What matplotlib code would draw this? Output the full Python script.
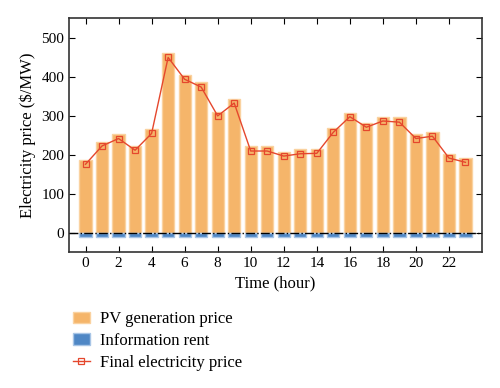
import numpy as np
import matplotlib.pyplot as plt

plt.rcParams['font.family'] = ['Liberation Serif', 'DejaVu Serif']

hours = np.arange(24)
pv_price = [185, 233, 252, 221, 265, 460, 404, 385, 310, 342, 221, 221,
            207, 213, 215, 269, 307, 281, 297, 295, 252, 259, 202, 191]
info_rent = [-11] * 24
final_price = [175, 222, 241, 211, 254, 449, 393, 373, 299, 332, 209, 209,
               196, 202, 203, 257, 297, 270, 286, 283, 241, 247, 191, 180]

fig = plt.figure(figsize=(5, 3.88), dpi=100)
ax = fig.add_axes([0.138, 0.3505, 0.826, 0.603])

b1 = ax.bar(hours, pv_price, width=0.74, color='#F5B56A', edgecolor='#FAD2A0',
            linewidth=1, label='PV generation price', zorder=2)
b2 = ax.bar(hours, info_rent, width=0.74, color='#4F87C5', edgecolor='#A8C5E6',
            linewidth=1, label='Information rent', zorder=2)
ax.axhline(0, color='black', lw=1, ls='-.', zorder=3)
ln, = ax.plot(hours, final_price, color='#E5472D', lw=1, marker='s', ms=4,
              mfc='none', mec='#E5472D', mew=0.9, label='Final electricity price', zorder=4)

ax.set_xlim(-1, 24)
ax.set_ylim(-50, 550)
ax.set_xticks(np.arange(0, 24, 2))
ax.set_yticks(np.arange(0, 501, 100))
ax.tick_params(direction='in', top=True, right=True, labelsize=11, length=4)
ax.set_xlabel('Time (hour)', fontsize=12)
ax.set_ylabel('Electricity price (\\$/MW)', fontsize=12)
for s in ax.spines.values():
    s.set_linewidth(1.2)
    s.set_color('#333333')

fig.legend(handles=[b1, b2, ln], loc='upper left', bbox_to_anchor=(0.132, 0.215),
           frameon=False, fontsize=12, handlelength=1.05, handletextpad=0.6,
           labelspacing=0.35, borderaxespad=0)

fig.savefig('out.png', dpi=100)
